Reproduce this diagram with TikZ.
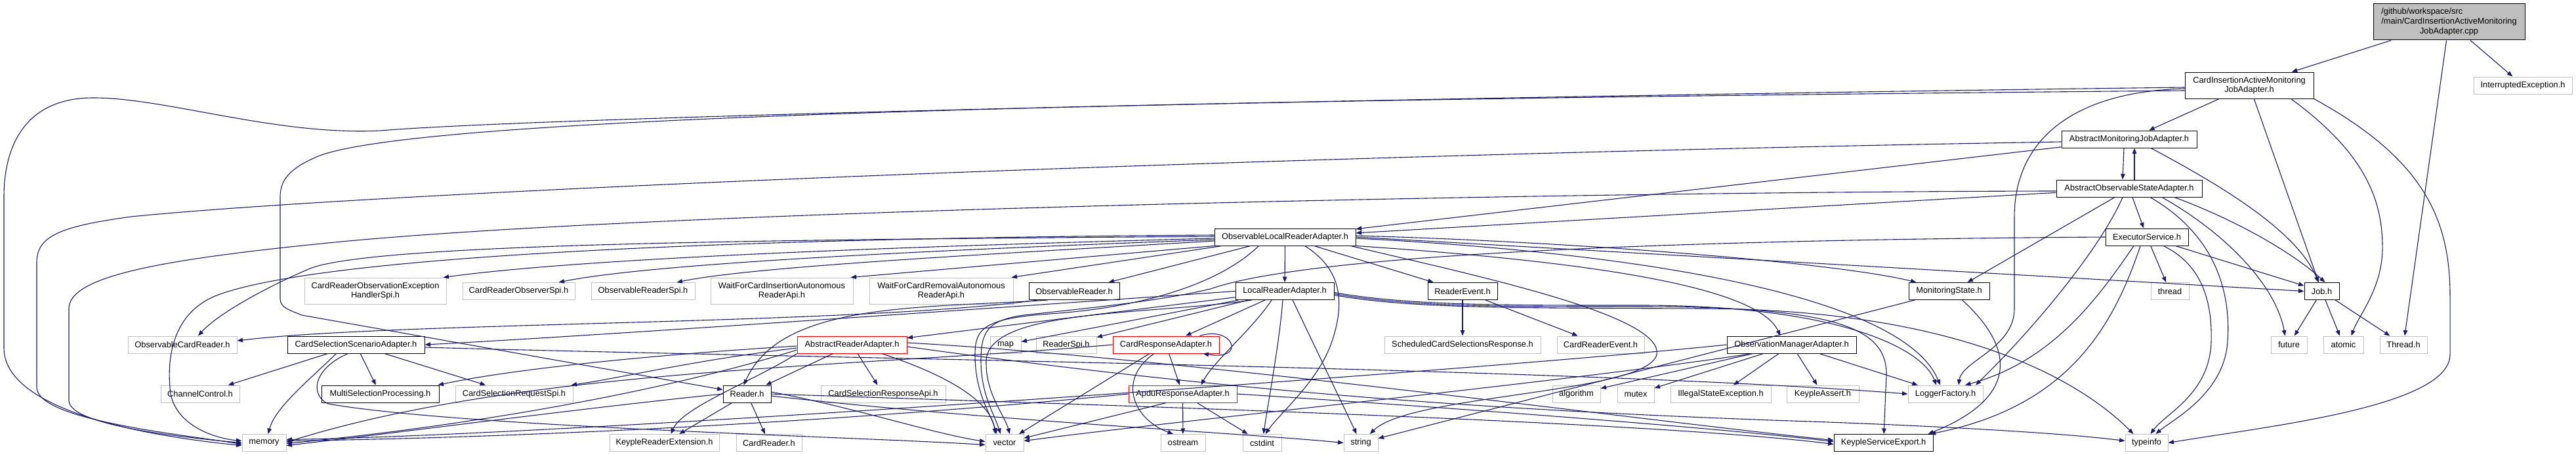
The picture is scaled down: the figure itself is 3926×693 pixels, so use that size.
\documentclass[tikz,border=0pt]{standalone}
\usepackage{fontspec}
\setmainfont{Liberation Sans}
\usetikzlibrary{arrows.meta}
\definecolor{eb}{HTML}{191970}
\definecolor{gseventyfive}{HTML}{BFBFBF}
\begin{document}
\begin{tikzpicture}[x=1pt,y=-1pt,
  nb/.style={draw, line width=1pt, inner sep=0pt, minimum height=26pt, font=\fontsize{12.8pt}{14.6pt}\selectfont, align=center},
  int/.style={nb, draw=black},
  ext/.style={nb, draw=gseventyfive},
  trn/.style={nb, draw=red},
  wd/.style={minimum width=#1pt},
  e/.style={draw=eb, line width=1.1pt, -{Triangle[length=8.5pt,width=6.5pt]}}]
\useasboundingbox (0,0) rectangle (3926,693);
% ---- nodes
\node[int, fill=gseventyfive, wd=231, minimum height=55pt] (root) at (3732.5,33.5) {\begin{tabular}{@{}l@{}}/github/workspace/src\\/main/CardInsertionActiveMonitoring\\\multicolumn{1}{@{}c@{}}{JobAdapter.cpp}\end{tabular}};
\node[int, wd=196, minimum height=40pt] (ciamja) at (3428,130) {CardInsertionActiveMonitoring\\JobAdapter.h};
\node[ext, wd=150] (interr) at (3845,130) {InterruptedException.h};
\node[int, wd=206] (amja) at (3245,212) {AbstractMonitoringJobAdapter.h};
\node[int, wd=222] (aosa) at (3245,287) {AbstractObservableStateAdapter.h};
\node[int, wd=215] (olra) at (1958.5,361) {ObservableLocalReaderAdapter.h};
\node[int, wd=126] (execsvc) at (3272,361) {ExecutorService.h};
\node[ext, wd=216, minimum height=40pt] (crovehs) at (572,443) {CardReaderObservationException\\HandlerSpi.h};
\node[ext, wd=171] (crobs) at (790.5,443.5) {CardReaderObserverSpi.h};
\node[ext, wd=158] (orspi) at (980,443.5) {ObservableReaderSpi.h};
\node[ext, wd=217, minimum height=40pt] (wfcia) at (1191.5,443) {WaitForCardInsertionAutonomous\\ReaderApi.h};
\node[ext, wd=219, minimum height=40pt] (wfcra) at (1434.5,443) {WaitForCardRemovalAutonomous\\ReaderApi.h};
\node[int, wd=138] (obsreader) at (1637,443.5) {ObservableReader.h};
\node[int, wd=150] (lra) at (1958,443.5) {LocalReaderAdapter.h};
\node[int, wd=106] (readerevent) at (2229,443.5) {ReaderEvent.h};
\node[int, wd=123] (monstate) at (2970.5,443.5) {MonitoringState.h};
\node[ext, wd=58] (thread) at (3307,443.5) {thread};
\node[int, wd=53] (job) at (3538.5,443.5) {Job.h};
\node[ext, wd=166] (obscardreader) at (278,525) {ObservableCardReader.h};
\node[int, wd=209] (cssa) at (542.5,525) {CardSelectionScenarioAdapter.h};
\node[trn, wd=167] (ara) at (1298.5,525) {AbstractReaderAdapter.h};
\node[ext, wd=47] (map) at (1532.5,525) {map};
\node[ext, wd=92] (readerspi) at (1625,525) {ReaderSpi.h};
\node[trn, wd=162] (cra) at (1777,525) {CardResponseAdapter.h};
\node[ext, wd=238] (scsr) at (2229,525) {ScheduledCardSelectionsResponse.h};
\node[ext, wd=133] (crevent) at (2439.5,525) {CardReaderEvent.h};
\node[int, wd=197] (oma) at (2730.5,525) {ObservationManagerAdapter.h};
\node[ext, wd=55] (future) at (3488.5,525) {future};
\node[ext, wd=61] (atomic) at (3571.5,525) {atomic};
\node[ext, wd=72] (threadh) at (3663,525) {Thread.h};
\node[ext, wd=120] (chanctl) at (305,600) {ChannelControl.h};
\node[int, wd=179] (msp) at (579.5,600) {MultiSelectionProcessing.h};
\node[ext, wd=179] (csreqspi) at (783.5,600) {CardSelectionRequestSpi.h};
\node[int, wd=73] (reader) at (1138.5,600) {Reader.h};
\node[ext, wd=190] (csrespapi) at (1346,600) {CardSelectionResponseApi.h};
\node[trn, wd=165] (apdu) at (1802.5,600) {ApduResponseAdapter.h};
\node[ext, wd=73] (algorithm) at (2402.5,600) {algorithm};
\node[ext, wd=56] (mutex) at (2493,600) {mutex};
\node[ext, wd=153] (ise) at (2622.5,600) {IllegalStateException.h};
\node[ext, wd=110] (kassert) at (2778,600) {KeypleAssert.h};
\node[ext, wd=114] (logger) at (2965,600) {LoggerFactory.h};
\node[ext, wd=67] (memory) at (402.5,674.5) {memory};
\node[ext, wd=167] (kre) at (1012.5,674.5) {KeypleReaderExtension.h};
\node[ext, wd=100] (cardreader) at (1172,674.5) {CardReader.h};
\node[ext, wd=58] (vector) at (1531,674.5) {vector};
\node[ext, wd=68] (ostream) at (1803,674.5) {ostream};
\node[ext, wd=59] (cstdint) at (1923.5,674.5) {cstdint};
\node[ext, wd=52] (string) at (2074,674.5) {string};
\node[int, wd=151] (kse) at (2870.5,674.5) {KeypleServiceExport.h};
\node[ext, wd=65] (typeinfo) at (3271.5,674.5) {typeinfo};
% ---- root
\draw[e] (root) -- (ciamja);
\draw[e] (root) -- (interr);
\draw[e] (root) -- (threadh);
% ---- ciamja
\draw[e] (ciamja) -- (amja);
\draw[e] ([yshift=-3pt]ciamja.west) .. controls (2000,150) and (800,180) .. (580,199) .. controls (420,207) and (250,148) .. (140,149) .. controls (40,150) and (6,220) .. (6,300) -- (6,530) .. controls (6,620) and (200,662) .. ([yshift=-4pt]memory.west);
\draw[e] ([yshift=-8pt]ciamja.west) .. controls (1800,152) and (620,175) .. (480,240) .. controls (440,258) and (427,275) .. (427,300) -- (427,455) .. controls (427,468) and (440,472) .. (460,480) -- (reader);
\draw[e] (ciamja) -- (job);
\draw[e] ([yshift=-5pt]ciamja.west) .. controls (3150,140) and (3070,220) .. (3070,330) -- (3070,470) .. controls (3070,530) and (2990,550) .. ([xshift=20pt]logger.north);
\draw[e] ([xshift=-35pt]ciamja.south east) .. controls (3600,230) and (3632,300) .. (3631,380) .. controls (3630,440) and (3595,480) .. ([xshift=12pt]atomic.north);
\draw[e] (ciamja.south east) .. controls (3690,240) and (3734,330) .. (3734,450) -- (3734,540) .. controls (3734,620) and (3450,650) .. (typeinfo.east);
% ---- amja / aosa
\draw[e] ([xshift=-8pt]amja.south) -- ([xshift=-10pt]aosa.north);
\draw[e] ([xshift=8pt]aosa.north) -- ([xshift=8pt]amja.south);
\draw[e] (amja) -- (olra);
\draw[e] (aosa) -- (olra);
\draw[e] ([yshift=-4pt]amja.west) .. controls (2000,235) and (600,290) .. (200,330) .. controls (90,345) and (56,360) .. (56,400) -- (56,590) .. controls (56,640) and (280,662) .. ([yshift=-2pt]memory.west);
\draw[e] ([yshift=-4pt]aosa.west) .. controls (2400,292) and (1000,320) .. (500,370) .. controls (250,395) and (105,420) .. (105,470) -- (105,610) .. controls (105,650) and (300,668) .. (memory.west);
\draw[e] ([xshift=33pt]amja.south) .. controls (3380,280) and (3500,350) .. ([xshift=-5pt]job.north);
\draw[e] (aosa) -- (execsvc);
\draw[e] ([xshift=-22pt]aosa.south) -- ([xshift=28pt]monstate.north);
\draw[e] ([xshift=-10pt]aosa.south) .. controls (3200,380) and (3100,500) .. ([xshift=46pt]logger.north);
\draw[e] ([xshift=32pt]aosa.south) .. controls (3380,360) and (3400,450) .. (3395,520) .. controls (3390,600) and (3310,640) .. ([xshift=14pt]typeinfo.north);
\draw[e] ([xshift=50pt]aosa.south) .. controls (3400,360) and (3470,440) .. ([xshift=-6pt]future.north);
\draw[e] ([xshift=69pt]aosa.south) .. controls (3420,340) and (3500,390) .. ([xshift=5pt]job.north);
% ---- executor
\draw[e] (execsvc) -- (job);
\draw[e] (execsvc) -- (thread);
\draw[e] ([xshift=25pt]execsvc.south) .. controls (3350,400) and (3372,450) .. (3370,520) .. controls (3368,600) and (3300,630) .. ([xshift=6pt]typeinfo.north);
\draw[e] ([xshift=-20pt]execsvc.south) .. controls (3200,450) and (3130,550) .. ([xshift=30pt]logger.north);
\draw[e] ([xshift=-10pt]execsvc.south) .. controls (3220,500) and (3150,620) .. ([xshift=-5pt]kse.north east);
\draw[e] (execsvc.west) .. controls (2600,365) and (2000,385) .. (1845,440) .. controls (1760,460) and (1650,470) .. (1560,480) .. controls (1505,488) and (1495,505) .. (1495,550) .. controls (1495,600) and (1515,630) .. ([xshift=-6pt]vector.north);
% ---- olra
\draw[e] ([yshift=-2pt]olra.west) .. controls (1400,375) and (900,392) .. ([xshift=-5pt]crovehs.north east);
\draw[e] ([yshift=-4pt]olra.west) .. controls (1450,380) and (1000,400) .. ([xshift=-25pt]crobs.north east);
\draw[e] ([yshift=-6pt]olra.west) .. controls (1550,385) and (1150,405) .. ([xshift=-28pt]orspi.north east);
\draw[e] (olra.south west) -- ([xshift=-4pt]wfcia.north east);
\draw[e] ([xshift=12pt]olra.south west) -- ([xshift=-3pt]wfcra.north east);
\draw[e] (olra) -- (obsreader);
\draw[e] (olra) -- (lra);
\draw[e] ([yshift=1pt]olra.west) .. controls (1200,365) and (560,370) .. (470,410) .. controls (400,440) and (330,480) .. ([xshift=24pt]obscardreader.north);
\draw[e] ([yshift=3pt]olra.west) .. controls (1200,362) and (500,385) .. (330,450) .. controls (255,480) and (255,560) .. (260,600) .. controls (270,650) and (330,668) .. ([yshift=3pt]memory.west);
\draw[e] (olra) -- (readerevent);
\draw[e] (olra.south east) .. controls (2450,400) and (2680,440) .. ([xshift=-17pt]oma.north);
\draw[e] ([yshift=2pt]olra.east) .. controls (2400,368) and (2800,400) .. ([xshift=-50pt]monstate.north);
\draw[e] (olra.east) -- (job.west);
\draw[e] ([yshift=-2pt]olra.east) .. controls (2500,385) and (2900,450) .. ([xshift=-8pt]logger.north);
\draw[e] ([xshift=30pt]olra.south) .. controls (2045,410) and (2050,460) .. (2030,520) .. controls (2010,580) and (1950,630) .. ([xshift=5pt]cstdint.north);
\draw[e] ([xshift=-8pt]olra.south east) .. controls (2250,420) and (2535,480) .. (2525,540) .. controls (2510,600) and (2150,600) .. (string);
\draw[e] ([xshift=-40pt]olra.south) .. controls (1850,440) and (1720,470) .. (1600,478) .. controls (1500,485) and (1486,500) .. (1486,540) .. controls (1486,600) and (1510,630) .. ([xshift=-12pt]vector.north);
% ---- lra
\draw[e] (lra) -- (ara);
\draw[e] (lra) -- (map);
\draw[e] (lra) -- (readerspi);
\draw[e] (lra) -- (cra);
\draw[e] ([xshift=-20pt]lra.south) .. controls (1910,500) and (1850,550) .. ([xshift=28pt]apdu.north);
\draw[e] ([xshift=-3pt]lra.south) .. controls (1950,520) and (1935,600) .. (cstdint);
\draw[e] ([xshift=12pt]lra.south) -- (string);
\draw[e] ([xshift=-50pt]lra.south) .. controls (1750,480) and (1505,470) .. (1503,550) .. controls (1502,600) and (1530,630) .. ([xshift=8pt]vector.north);
\draw[e] (lra.west) .. controls (1500,470) and (900,512) .. (cssa.east);
\draw[e] ([yshift=-4pt]lra.east) .. controls (2150,468) and (2300,467) .. (2500,467) .. controls (2800,467) and (2875,500) .. (2875,570) -- (kse);
\draw[e] ([yshift=-2pt]lra.east) .. controls (2150,466) and (2300,465) .. (2500,465) .. controls (2800,465) and (2930,530) .. ([xshift=-14pt]logger.north);
\draw[e] ([yshift=-6pt]lra.east) .. controls (2150,470) and (2300,469) .. (2600,470) .. controls (2950,472) and (3150,560) .. ([xshift=-20pt]typeinfo.north);
% ---- ara
\draw[e] (ara) -- (reader);
\draw[e] (ara) -- (csrespapi);
\draw[e] ([xshift=45pt]ara.south) .. controls (1440,570) and (1510,610) .. ([xshift=-14pt]vector.north);
\draw[e] (ara.south west) .. controls (1150,580) and (1040,620) .. ([xshift=10pt]kre.north);
\draw[e] ([yshift=-8pt]ara.west) .. controls (1000,600) and (700,650) .. ([yshift=-1pt]memory.east);
\draw[e] ([yshift=-2pt]ara.west) .. controls (1000,540) and (780,562) .. ([xshift=-2pt]msp.north east);
\draw[e] ([yshift=-5pt]ara.west) .. controls (1050,550) and (950,575) .. ([xshift=-3pt]csreqspi.north east);
\draw[e] ([yshift=3pt]ara.east) .. controls (1800,545) and (2500,640) .. ([yshift=4pt]kse.west);
\draw[e] ([yshift=-3pt]ara.east) .. controls (1900,600) and (2300,625) .. (2700,640) .. controls (2950,648) and (3150,660) .. ([yshift=3pt]typeinfo.west);
% ---- reader
\draw[e] (reader) -- (cardreader);
\draw[e] (reader) -- (kre);
\draw[e] ([yshift=3pt]reader.east) .. controls (1300,620) and (1420,660) .. ([yshift=2pt]vector.west);
\draw[e] ([yshift=-3pt]reader.east) .. controls (1500,640) and (1900,660) .. (string.west);
\draw[e] (reader.east) .. controls (1600,615) and (2500,640) .. ([yshift=-2pt]kse.west);
\draw[e] (reader.west) .. controls (900,620) and (600,660) .. ([yshift=-4pt]memory.east);
% ---- cssa
\draw[e] (cssa) -- (chanctl);
\draw[e] (cssa) -- (msp);
\draw[e] (cssa) -- (csreqspi);
\draw[e] ([xshift=-30pt]cssa.south) .. controls (470,580) and (420,620) .. ([xshift=6pt]memory.north);
\draw[e] ([xshift=-12pt]cssa.south) .. controls (480,560) and (470,600) .. (500,615) .. controls (700,650) and (1300,665) .. ([yshift=-3pt]vector.west);
\draw[e] ([yshift=-4pt]cssa.east) .. controls (1200,545) and (2400,560) .. (logger.west);
% ---- cra / apdu
\draw[e] (cra) -- (apdu);
\draw[e] ([xshift=-25pt]cra.south) -- (vector);
\draw[e] ([xshift=-18pt]cra.south) .. controls (1700,580) and (1730,640) .. ([xshift=-15pt]ostream.north);
\draw[e] (cra.west) .. controls (1300,560) and (800,560) .. ([yshift=1pt]memory.east);
\draw[e] ([xshift=-30pt]cra.north east) .. controls (1880,495) and (1900,550) .. ([xshift=-25pt]cra.south east);
\draw[e] ([xshift=-25pt]apdu.south) -- (vector);
\draw[e] (apdu) -- (ostream);
\draw[e] (apdu) -- (cstdint);
\draw[e] (apdu.west) .. controls (1400,632) and (900,665) .. ([yshift=3pt]memory.east);
\draw[e] (apdu.east) .. controls (2200,620) and (2600,650) .. ([yshift=2pt]kse.west);
% ---- oma
\draw[e] (oma) -- (algorithm);
\draw[e] (oma) -- (mutex);
\draw[e] (oma) -- (ise);
\draw[e] (oma) -- (kassert);
\draw[e] (oma) -- (logger);
\draw[e] (oma.west) .. controls (2300,560) and (900,662) .. ([yshift=5pt]memory.east);
\draw[e] ([xshift=-60pt]oma.south) .. controls (2400,580) and (1800,640) .. ([yshift=3pt]vector.east);
% ---- others
\draw[e] (readerevent) -- (scsr);
\draw[e] (readerevent) -- (crevent);
\draw[e] (job) -- (future);
\draw[e] (job) -- (atomic);
\draw[e] (job) -- (threadh);
\draw[e] ([xshift=20pt]monstate.south) .. controls (3060,520) and (3090,600) .. ([xshift=-8pt]kse.north east);
\draw[e] (monstate) -- (string);
\draw[e] ([xshift=-40pt]obsreader.south) .. controls (1400,470) and (1190,460) .. ([xshift=-5pt]reader.north);
\draw[e] ([xshift=-55pt]obsreader.south) .. controls (1300,495) and (600,490) .. ([yshift=6pt]obscardreader.east);
\end{tikzpicture}
\end{document}
